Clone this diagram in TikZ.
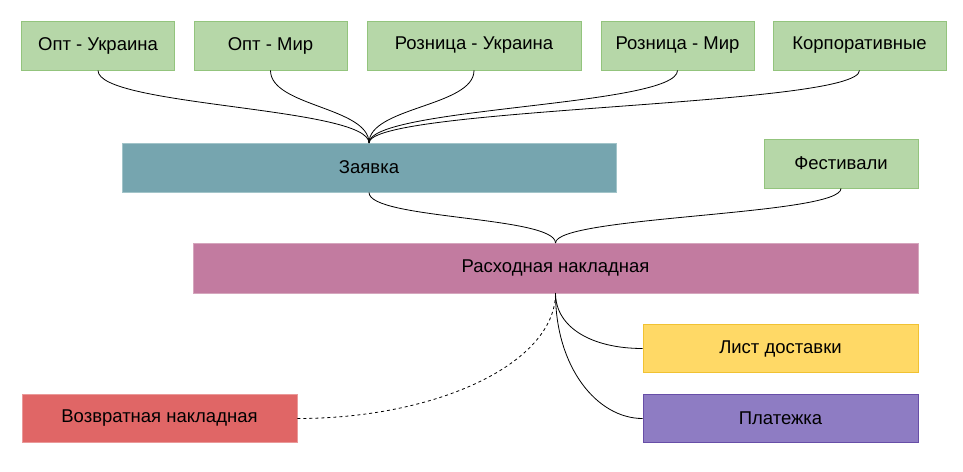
\documentclass[tikz,border=0pt]{standalone}
\usepackage{fontspec}
\setmainfont{Liberation Sans}
\definecolor{gfill}{HTML}{B6D7A8}
\definecolor{gline}{HTML}{93C47D}
\definecolor{zfill}{HTML}{76A5AF}
\definecolor{zline}{HTML}{A2C4C9}
\definecolor{rfill}{HTML}{C27BA0}
\definecolor{rline}{HTML}{D5A6BD}
\definecolor{yfill}{HTML}{FFD966}
\definecolor{yline}{HTML}{F1C232}
\definecolor{pfill}{HTML}{8E7CC3}
\definecolor{pline}{HTML}{674EA7}
\definecolor{vfill}{HTML}{E06666}
\definecolor{vline}{HTML}{EA9999}
\tikzset{
  box/.style={rectangle, inner sep=0pt, line width=0.9pt, font=\fontsize{18.5}{22}\selectfont, text=black},
  greenbox/.style={box, fill=gfill, draw=gline, minimum width=153pt, minimum height=49pt},
  link/.style={draw=black, line width=0.8pt},
}
\begin{document}
\begin{tikzpicture}[x=1pt,y=-1pt]
\useasboundingbox (0,0) rectangle (963,471);
% top row
\node[greenbox] (ou) at (98,45.5) {Опт - Украина};
\node[greenbox] (om) at (270.5,45.5) {Опт - Мир};
\node[greenbox, minimum width=214pt] (ru) at (474,45.5) {Розница - Украина};
\node[greenbox] (rm) at (677.5,45.5) {Розница - Мир};
\node[greenbox, minimum width=173pt] (kp) at (859.5,45.5) {Корпоративные};
% middle
\node[box, fill=zfill, draw=zline, minimum width=494pt, minimum height=49pt] (zv) at (369,167.5) {Заявка};
\node[greenbox, minimum width=154pt] (fs) at (841,163.5) {Фестивали};
\node[box, fill=rfill, draw=rline, minimum width=725pt, minimum height=50pt] (rn) at (555.5,268) {Расходная накладная};
% bottom
\node[box, fill=yfill, draw=yline, minimum width=275pt, minimum height=48pt] (ld) at (780.5,348.5) {Лист доставки};
\node[box, fill=pfill, draw=pline, minimum width=275pt, minimum height=48pt] (pl) at (780.5,418.5) {Платежка};
\node[box, fill=vfill, draw=vline, minimum width=275pt, minimum height=48pt] (vn) at (159.5,418.5) {Возвратная накладная};
% connectors top -> Заявка
\coordinate (zt) at (369,143);
\draw[link] (ou.south) .. controls +(0pt,-36pt) and +(0pt,36pt) .. (zt);
\draw[link] (om.south) .. controls +(0pt,-36pt) and +(0pt,36pt) .. (zt);
\draw[link] (ru.south) .. controls +(0pt,-36pt) and +(0pt,36pt) .. (zt);
\draw[link] (rm.south) .. controls +(0pt,-36pt) and +(0pt,36pt) .. (zt);
\draw[link] (kp.south) .. controls +(0pt,-36pt) and +(0pt,36pt) .. (zt);
% Заявка, Фестивали -> Расходная
\coordinate (rt) at (555.5,243);
\draw[link] (zv.south) .. controls +(0pt,-27pt) and +(0pt,27pt) .. (rt);
\draw[link] (fs.south) .. controls +(0pt,-27pt) and +(0pt,27pt) .. (rt);
% Расходная -> bottom
\coordinate (rb) at (555.5,293);
\draw[link] (rb) .. controls +(0pt,-35pt) and +(-50pt,0pt) .. (ld.west);
\draw[link] (rb) .. controls +(0pt,-75pt) and +(-45pt,0pt) .. (pl.west);
\draw[link, dashed] (vn.east) .. controls +(140pt,0pt) and +(0pt,-70pt) .. (rb);
\end{tikzpicture}
\end{document}
